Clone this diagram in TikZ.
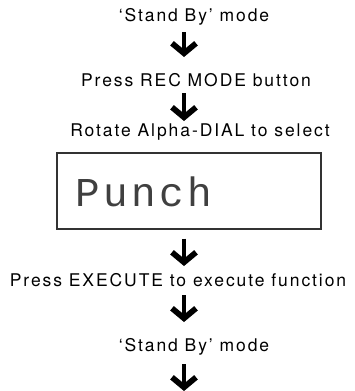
\documentclass[tikz,border=0pt]{standalone}
\usepackage{fontspec}
\setmainfont{TeX Gyre Heros}[LetterSpace=11]
\newfontfamily\lcdfont{Liberation Mono}[LetterSpace=8]
\usetikzlibrary{arrows.meta, positioning}
\tikzset{
  >={Straight Barb[length=10pt, width=24pt, line width=1.2pt 1]},
  rec step/.style={font=\fontsize{17.5}{19}\selectfont, inner sep=0pt},
  rec flow/.style={draw=black, ->, line width=4.5pt},
  rec lcd/.style={draw=black!80, line width=1.2pt, minimum width=264pt,
    minimum height=76pt, inner sep=0pt},
  rec text/.style={font=\lcdfont\fontsize{41}{44}\selectfont, inner sep=0pt,
    text=black!75},
}

\begin{document}
\begin{tikzpicture}[x=1pt, y=-1pt]
 \useasboundingbox (0,0) rectangle (355,391);
 \node[rec step] (standby) at (194,17) {`Stand By' mode};
 \node[rec step] (recmode) at (196,80) {Press REC MODE button};
 \node[rec step] (rotate) at (200,132) {Rotate Alpha-DIAL to select};
 \node[rec lcd] (lcd) at (189,191) {};
 \node[rec text] (punch) at (144,192) {Punch};
 \node[rec step] (execute) at (178,280) {Press EXECUTE to execute function};
 \node[rec step] (standbyb) at (194,347) {`Stand By' mode};
 \coordinate (next) at (184,391);
 % arrows between the steps
 \draw[rec flow, shorten <=15pt, shorten >=23pt] (standby.center -| next) -- (recmode.center -| next);
 \draw[rec flow, shorten <=13pt, shorten >=11pt] (recmode.center -| next) -- (rotate.center -| next);
 \draw[rec flow, shorten <=9pt, shorten >=14pt] (lcd.south -| next) -- (execute.center -| next);
 \draw[rec flow, shorten <=15pt, shorten >=25pt] (execute.center -| next) -- (standbyb.center -| next);
 \draw[rec flow, shorten <=17pt] (standbyb.center -| next) -- (next);
\end{tikzpicture}
\end{document}
